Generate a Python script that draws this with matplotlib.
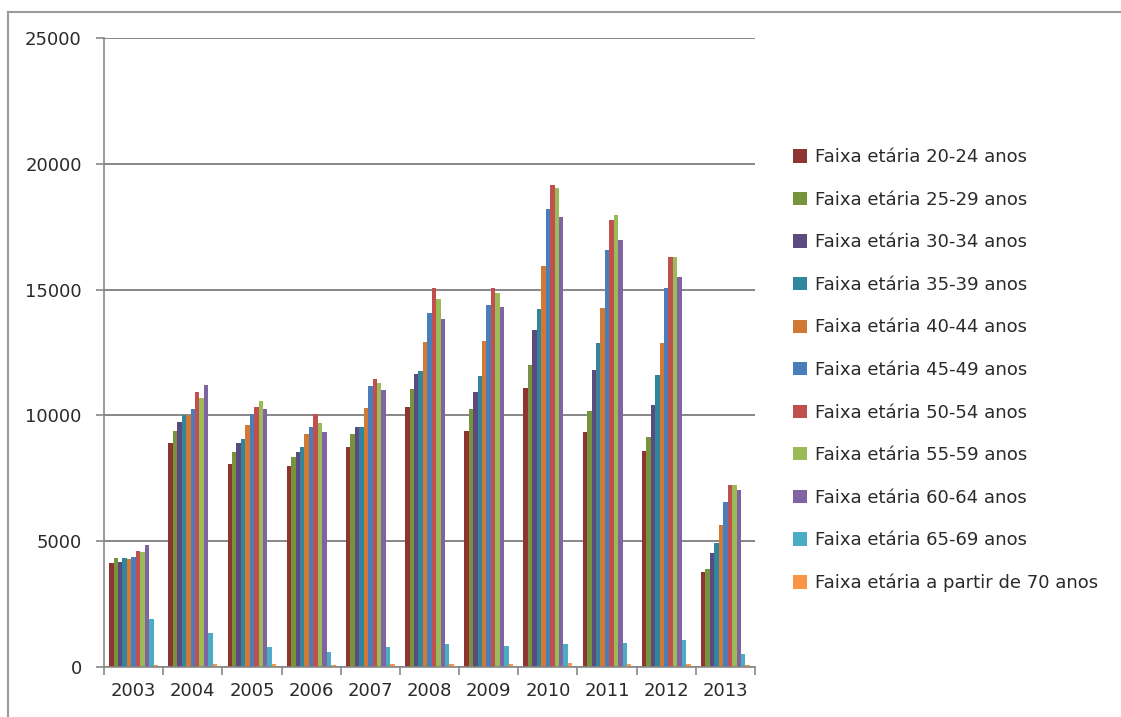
import matplotlib.pyplot as plt
import numpy as np

anos = ['2003', '2004', '2005', '2006', '2007', '2008', '2009', '2010', '2011', '2012', '2013']

faixa_20_24 = [4120, 8920, 8060, 7990, 8760, 10320, 9390, 11090, 9350, 8590, 3770]
faixa_25_29 = [4320, 9380, 8560, 8330, 9250, 11040, 10240, 11990, 10180, 9150, 3900]
faixa_30_34 = [4170, 9750, 8920, 8560, 9530, 11650, 10940, 13410, 11800, 10400, 4530]
faixa_35_39 = [4320, 10000, 9050, 8760, 9530, 11780, 11580, 14240, 12860, 11600, 4940]
faixa_40_44 = [4300, 10000, 9620, 9260, 10310, 12900, 12970, 15940, 14270, 12870, 5640]
faixa_45_49 = [4390, 10240, 10040, 9530, 11170, 14060, 14390, 18190, 16580, 15080, 6570]
faixa_50_54 = [4600, 10940, 10320, 10040, 11440, 15080, 15080, 19150, 17750, 16290, 7250]
faixa_55_59 = [4560, 10680, 10590, 9690, 11300, 14620, 14880, 19020, 17960, 16290, 7220]
faixa_60_64 = [4830, 11210, 10240, 9330, 11010, 13820, 14320, 17880, 16980, 15510, 7050]
faixa_65_69 = [1920, 1340, 780, 610, 780, 900, 840, 930, 960, 1080, 530]
faixa_70_mais = [60, 120, 100, 80, 100, 130, 110, 140, 130, 130, 60]

rotulos = ['Faixa etária 20-24 anos', 'Faixa etária 25-29 anos', 'Faixa etária 30-34 anos',
           'Faixa etária 35-39 anos', 'Faixa etária 40-44 anos', 'Faixa etária 45-49 anos',
           'Faixa etária 50-54 anos', 'Faixa etária 55-59 anos', 'Faixa etária 60-64 anos',
           'Faixa etária 65-69 anos', 'Faixa etária a partir de 70 anos']

series = [faixa_20_24, faixa_25_29, faixa_30_34, faixa_35_39, faixa_40_44, faixa_45_49,
          faixa_50_54, faixa_55_59, faixa_60_64, faixa_65_69, faixa_70_mais]

cores = ['#8E3431', '#77933C', '#5B4A7E', '#31859C', '#D07A35', '#4A7EBB',
         '#C0504D', '#9BBB59', '#8064A2', '#4BACC6', '#F79646']

cinza = '#878787'

fig = plt.figure(figsize=(11.21, 7.17), dpi=100)
ax = fig.add_axes([104 / 1121, 1 - 667 / 717, (755 - 104) / 1121, (667 - 38) / 717])

x = np.arange(len(anos))
n = len(series)
larg = 0.075
for i, (valores, rot, cor) in enumerate(zip(series, rotulos, cores)):
    desloc = (i - (n - 1) / 2) * larg
    ax.bar(x + desloc, valores, width=larg, color=cor, label=rot, linewidth=0)

ax.set_xlim(-0.5, len(anos) - 0.5)
ax.set_ylim(0, 25000)
ax.set_yticks(np.arange(0, 25001, 5000))
ax.set_yticklabels([str(v) for v in range(0, 25001, 5000)])
ax.set_xticks(x)
ax.set_xticklabels(anos)
ax.set_xticks(np.arange(-0.5, len(anos), 1), minor=True)

ax.grid(axis='y', color=cinza, linewidth=1.4)
ax.set_axisbelow(True)
for lado in ['top', 'right']:
    ax.spines[lado].set_visible(False)
for lado in ['left', 'bottom']:
    ax.spines[lado].set_color(cinza)
    ax.spines[lado].set_linewidth(1.2)

ax.tick_params(axis='y', colors=cinza, length=6, width=1.2, labelsize=13, labelcolor='#2a2a2a', pad=10)
ax.tick_params(axis='x', which='major', length=0, labelsize=13, labelcolor='#2a2a2a', pad=11)
ax.tick_params(axis='x', which='minor', colors=cinza, length=6, width=1.2)

leg = fig.legend(loc='upper left', bbox_to_anchor=(786 / 1121, 1 - 141 / 717), frameon=False,
                 fontsize=13, handlelength=0.75, handleheight=0.75, handletextpad=0.45,
                 labelspacing=1.36, borderaxespad=0)
for t in leg.get_texts():
    t.set_color('#2a2a2a')

# moldura externa
fig.add_artist(plt.Line2D([8 / 1121, 1.01], [1 - 12 / 717, 1 - 12 / 717], color='#9a9a9a', linewidth=1.5))
fig.add_artist(plt.Line2D([8 / 1121, 8 / 1121], [-0.01, 1 - 12 / 717], color='#9a9a9a', linewidth=1.5))

fig.savefig('out.png', dpi=100)
